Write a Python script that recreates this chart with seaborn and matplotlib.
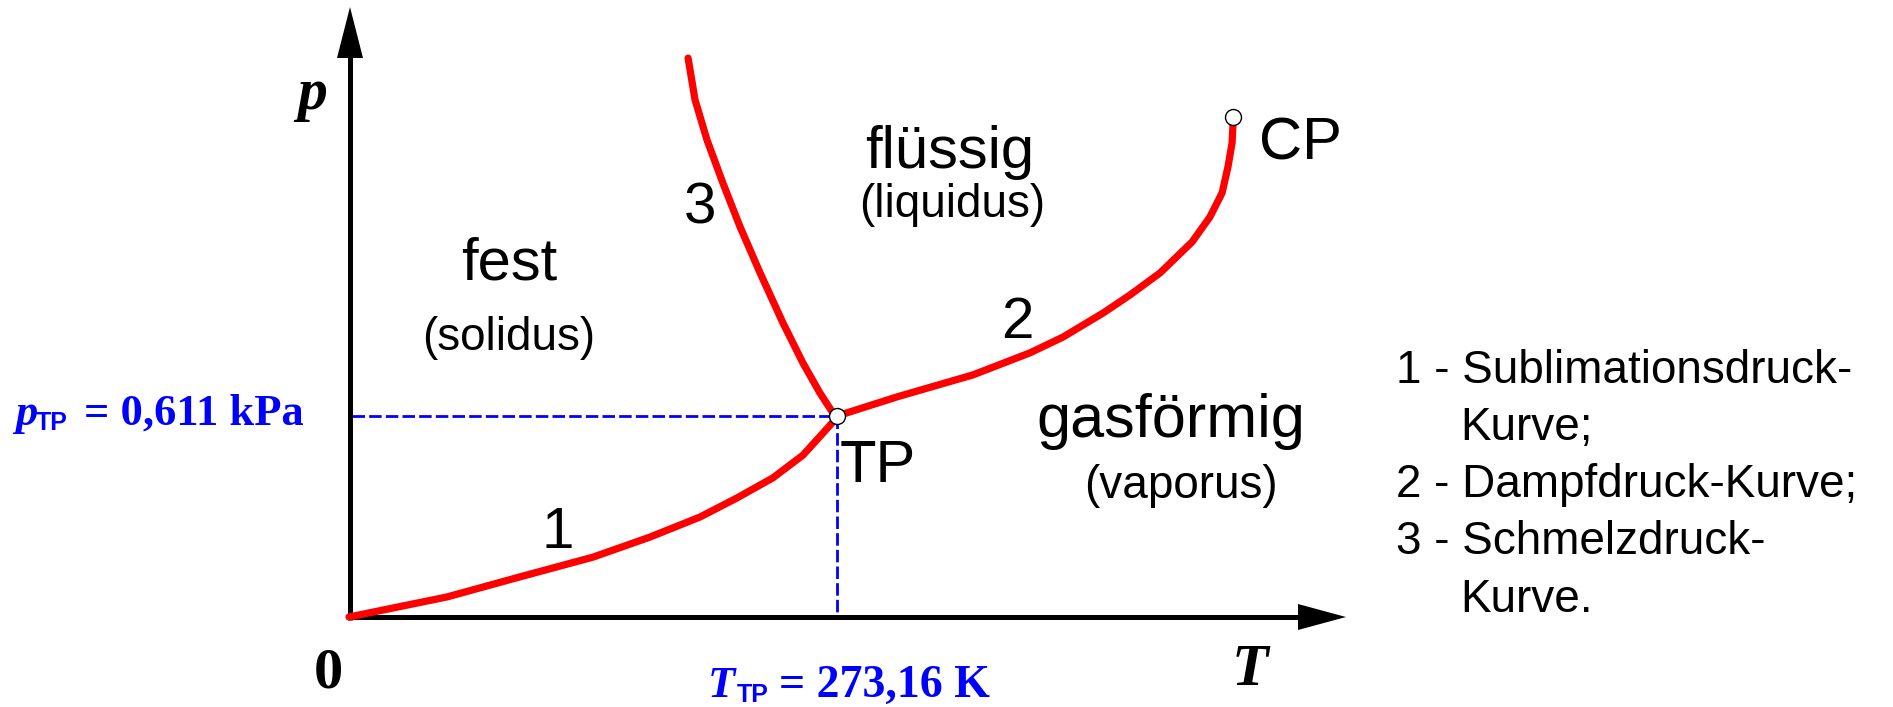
import numpy as np
import pandas as pd
import matplotlib
matplotlib.use("Agg")
import matplotlib.pyplot as plt
import seaborn as sns

# ---------------- data (schematic phase diagram, T in K, p in kPa) ----------------
T_TP, p_TP = 273.16, 0.611
T_CP, p_CP = 494.8, 1.520

# 1 - sublimation curve
sub_T = [0.0, 54.9, 95.7, 136.6, 168.5, 196.5, 217.2, 237.3, 254.1, 265.3, 270.9, 273.16]
sub_p = [0.0, 0.061, 0.122, 0.182, 0.243, 0.304, 0.362, 0.423, 0.492, 0.559, 0.593, 0.611]
# 2 - vapour pressure curve
vap_T = [273.16, 306.7, 349.3, 381.2, 399.7, 422.1, 437.2, 454.0, 471.9, 481.9, 488.7, 492.0, 494.3, 494.8, 494.8]
vap_p = [0.611, 0.669, 0.736, 0.803, 0.851, 0.924, 0.979, 1.046, 1.140, 1.216, 1.289, 1.368, 1.441, 1.496, 1.520]
# 3 - melting curve
mel_T = [273.16, 270.9, 263.6, 254.1, 242.9, 230.1, 218.9, 209.3, 200.4, 193.7, 189.8]
mel_p = [0.611, 0.620, 0.681, 0.772, 0.894, 1.046, 1.186, 1.319, 1.450, 1.572, 1.699]

region_labels = ["fest", "(solidus)", "flüssig", "(liquidus)", "gasförmig", "(vaporus)"]
curve_labels = ["1", "2", "3"]
legend_lines = ["1 - Sublimationsdruck-", "Kurve;", "2 - Dampfdruck-Kurve;", "3 - Schmelzdruck-", "Kurve."]

# ---------------- layout helpers (pixel -> data) ----------------
W, H = 1893, 707
X0, Y0 = 349, 617
kx = T_TP / (837 - X0)
ky = p_TP / (Y0 - 416)

def P(x, y):
    return ((x - X0) * kx, (Y0 - y) * ky)

sns.set_theme(style="white")
SANS = "Liberation Sans"
SERIF = "Liberation Serif"

fig = plt.figure(figsize=(W / 100, H / 100), dpi=100)
ax = fig.add_axes([0, 0, 1, 1])
ax.set_xlim(P(0, 0)[0], P(W, 0)[0])
ax.set_ylim(P(0, H)[1], P(0, 0)[1])
ax.axis("off")

# ---------------- axes with arrows ----------------
ax.plot(*zip(P(350, 620), P(350, 55)), color="black", linewidth=3.6, solid_capstyle="butt", zorder=3)
ax.plot(*zip(P(347, 617), P(1300, 617)), color="black", linewidth=3.6, solid_capstyle="butt", zorder=3)
tri_y = [P(337, 58), P(363, 58), P(350, 7)]
tri_x = [P(1298, 604), P(1298, 630), P(1346, 617)]
ax.fill(*zip(*tri_y), color="black", lw=0, zorder=3)
ax.fill(*zip(*tri_x), color="black", lw=0, zorder=3)

# ---------------- dashed guide lines ----------------
ax.plot([P(352, 0)[0], T_TP], [p_TP, p_TP], color="#0000ff", linewidth=2.0, dashes=(4.5, 1.5), zorder=2)
ax.plot([T_TP, T_TP], [p_TP, 0], color="#0000ff", linewidth=2.0, dashes=(4.5, 1.5), zorder=2)

# ---------------- curves ----------------
red = "#ff0000"
for Tv, pv in [(sub_T, sub_p), (vap_T, vap_p), (mel_T, mel_p)]:
    df = pd.DataFrame({"T": Tv, "p": pv})
    sns.lineplot(data=df, x="T", y="p", sort=False, estimator=None, color=red,
                 linewidth=5.2, ax=ax, zorder=4, legend=False)

ax.plot([T_TP, T_CP], [p_TP, p_CP], ls="none", marker="o", ms=11.5,
        mfc="white", mec="black", mew=1.0, zorder=6)

# ---------------- texts ----------------
def txt(x, y, s, size, family=SANS, ha="center", weight="normal", style="normal", color="black"):
    ax.text(*P(x, y), s, ha=ha, va="baseline", fontsize=size, family=family,
            fontweight=weight, fontstyle=style, color=color, zorder=7)

big, small = 43, 33
txt(509, 280, region_labels[0], big)
txt(509, 350, region_labels[1], small)
txt(950, 168, region_labels[2], big)
txt(952, 217, region_labels[3], small)
txt(1171, 437, region_labels[4], 44)
txt(1181, 498, region_labels[5], small)

txt(840, 482, "TP", big, ha="left")
txt(1259, 159, "CP", big, ha="left")

txt(558, 548, curve_labels[0], 42)
txt(1017, 338, curve_labels[1], 42)
txt(700, 223, curve_labels[2], 42)

txt(312, 109, "p", 43, family=SERIF, weight="bold", style="italic")
txt(1250, 685, "T", 43, family=SERIF, weight="bold", style="italic")
txt(328, 687, "0", 42, family=SERIF, weight="bold")

blue = "#0000ff"
txt(15, 425, "p", 32, family=SERIF, weight="bold", style="italic", ha="left", color=blue)
txt(36, 430, "TP", 18, family=SANS, weight="bold", ha="left", color=blue)
txt(84, 425, "= 0,611 kPa", 32, family=SERIF, weight="bold", ha="left", color=blue)

txt(708, 697, "T", 32, family=SERIF, weight="bold", style="italic", ha="left", color=blue)
txt(737, 702, "TP", 18, family=SANS, weight="bold", ha="left", color=blue)
txt(779, 697, "= 273,16 K", 33, family=SERIF, weight="bold", ha="left", color=blue)

leg_x = [1396, 1460, 1396, 1396, 1460]
leg_y = [383, 440, 497, 554, 612]
for s, x, y in zip(legend_lines, leg_x, leg_y):
    txt(x, y, s, small, ha="left")

fig.savefig("out.png", dpi=100, facecolor="white")
